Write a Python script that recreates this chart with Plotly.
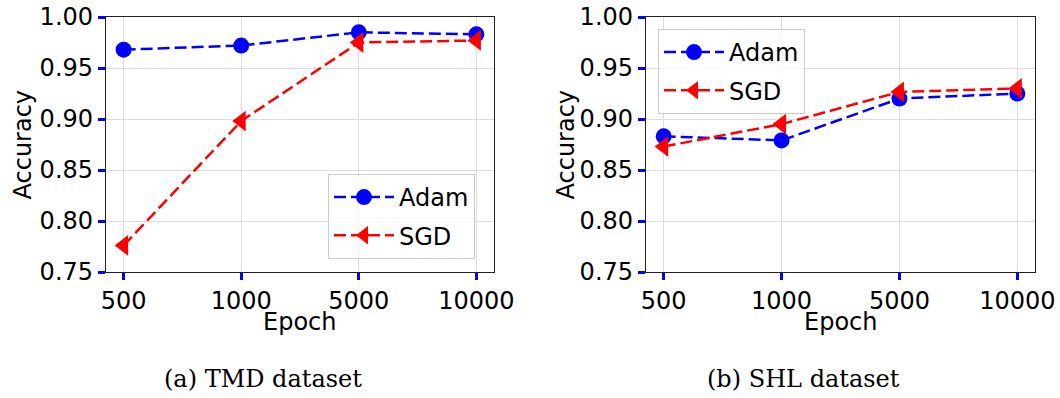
import plotly.graph_objects as go

epochs = ["500", "1000", "5000", "10000"]
tmd_adam = [0.968, 0.972, 0.985, 0.983]
tmd_sgd = [0.776, 0.898, 0.975, 0.977]
shl_adam = [0.883, 0.879, 0.920, 0.925]
shl_sgd = [0.873, 0.895, 0.9265, 0.930]
yticks = [0.75, 0.80, 0.85, 0.90, 0.95, 1.00]
captions = ["(a) TMD dataset", "(b) SHL dataset"]

W, H = 1060, 398
FONT = "DejaVu Sans"
FS = 24
xpos = list(range(len(epochs)))

fig = go.Figure()

def px_x(v):
    return v / W

def px_y(v):
    return 1 - v / H

dashed = "12px,5px"

panels = [
    (tmd_adam, tmd_sgd, "x", "y", "legend", (106, 494)),
    (shl_adam, shl_sgd, "x2", "y2", "legend2", (646, 1035)),
]

for adam, sgd, xa, ya, lg, _ in panels:
    fig.add_trace(go.Scatter(
        x=xpos, y=adam, name="Adam", xaxis=xa, yaxis=ya, legend=lg,
        legendgroup=lg + "a", mode="lines+markers",
        line=dict(color="#0000ff", width=2.5, dash=dashed),
        marker=dict(symbol="circle", size=16, color="#0000ff"),
    ))
    fig.add_trace(go.Scatter(
        x=xpos, y=sgd, name="SGD", xaxis=xa, yaxis=ya, legend=lg,
        legendgroup=lg + "s", mode="lines+markers",
        line=dict(color="#ff0000", width=2.5, dash=dashed),
        marker=dict(symbol="triangle-left", size=18, color="#ff0000"),
    ))

ydom = [px_y(272), px_y(17)]
axis_common = dict(
    showline=True, mirror=True, linecolor="#222222", linewidth=1.3,
    showgrid=True, gridcolor="#dddddd", gridwidth=1,
    ticks="outside", tickcolor="#0000ff", ticklen=7, tickwidth=3,
    tickfont=dict(family=FONT, size=FS, color="black"),
    zeroline=False, automargin=False,
)

layout = dict(
    width=W, height=H,
    margin=dict(l=0, r=0, t=0, b=0, pad=0, autoexpand=False),
    paper_bgcolor="white", plot_bgcolor="white",
    font=dict(family=FONT, size=FS, color="black"),
    showlegend=True,
)

for i, (adam, sgd, xa, ya, lg, (x0, x1)) in enumerate(panels):
    xk = "xaxis" if i == 0 else "xaxis2"
    yk = "yaxis" if i == 0 else "yaxis2"
    layout[xk] = dict(axis_common, domain=[px_x(x0), px_x(x1)],
                      range=[-0.15, len(epochs) - 1 + 0.15],
                      tickvals=xpos, ticktext=epochs, anchor=ya)
    layout[yk] = dict(axis_common, domain=ydom, range=[0.75, 1.0],
                      tickvals=yticks, tickformat=".2f", anchor=xa)

leg_common = dict(
    bgcolor="rgba(255,255,255,0.8)", bordercolor="#cccccc", borderwidth=1,
    font=dict(family=FONT, size=FS, color="black"),
    traceorder="grouped", tracegroupgap=4, itemwidth=60,
)
layout["legend"] = dict(leg_common, x=px_x(475), y=px_y(259),
                        xanchor="right", yanchor="bottom")
layout["legend2"] = dict(leg_common, x=px_x(658), y=px_y(29),
                         xanchor="left", yanchor="top")

fig.update_layout(**layout)

ann = []
for (x0, x1), ylab_x in [((106, 494), 22), ((646, 1035), 565)]:
    ann.append(dict(text="Accuracy", x=px_x(ylab_x), y=px_y(144.5), xref="paper", yref="paper",
                    showarrow=False, textangle=-90, xanchor="center", yanchor="middle",
                    font=dict(family=FONT, size=FS, color="black")))
    ann.append(dict(text="Epoch", x=px_x((x0 + x1) / 2), y=px_y(322), xref="paper", yref="paper",
                    showarrow=False, xanchor="center", yanchor="middle",
                    font=dict(family=FONT, size=FS, color="black")))
for cap, cx in zip(captions, [262.5, 803]):
    ann.append(dict(text=cap, x=px_x(cx), y=px_y(379), xref="paper", yref="paper",
                    showarrow=False, xanchor="center", yanchor="middle",
                    font=dict(family="DejaVu Serif", size=24, color="black")))
fig.update_layout(annotations=ann)

fig.write_html("out.html")
